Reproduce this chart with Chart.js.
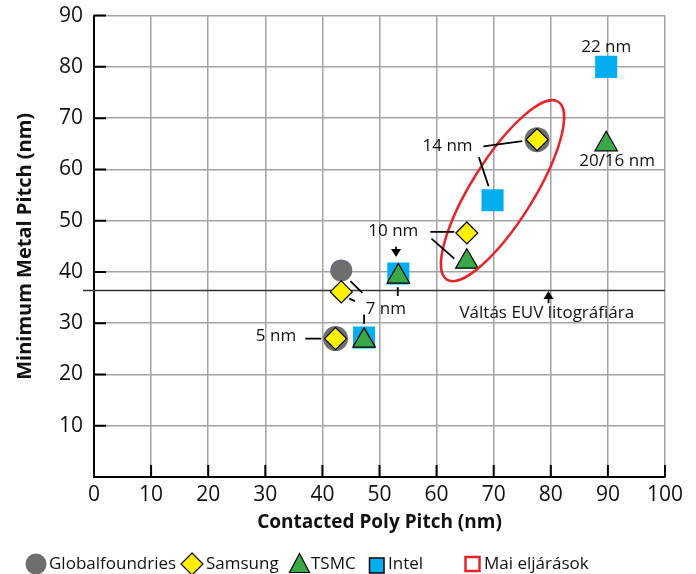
<!DOCTYPE html>
<html><head><meta charset="utf-8">
<script src="https://cdn.jsdelivr.net/npm/chart.js@4.4.1/dist/chart.umd.min.js"></script>
<style>html,body{margin:0;padding:0;background:#fff;} canvas{display:block;}</style>
</head><body>
<canvas id="c" width="696" height="574"></canvas>
<script>
// ---- data ----
const seriesNames = ['Globalfoundries', 'Samsung', 'TSMC', 'Intel'];
const gfX = [43.3, 42.3, 77.6];
const gfY = [40.3, 27.0, 65.8];
const samsungX = [43.3, 42.3, 65.3, 77.6];
const samsungY = [36.1, 27.0, 47.6, 65.8];
const tsmcX = [53.3, 47.3, 65.3, 89.7];
const tsmcY = [39.1, 26.6, 42.0, 64.9];
const intelX = [53.3, 47.3, 69.8, 89.7];
const intelY = [39.7, 27.2, 54.0, 80.0];
const euvPitch = 36.4;
const xTickValues = [0, 10, 20, 30, 40, 50, 60, 70, 80, 90, 100];
const yTickValues = [10, 20, 30, 40, 50, 60, 70, 80, 90];
const todayLabel = 'Mai eljárások';

// ---- annotations (data coordinates) ----
const nodeLabels = [
  {text: '22 nm', x: 89.7, y: 83.8, align: 'center'},
  {text: '20/16 nm', x: 91.6, y: 61.6, align: 'center'},
  {text: '14 nm', x: 66.3, y: 64.5, align: 'right'},
  {text: '10 nm', x: 56.8, y: 47.9, align: 'right'},
  {text: '7 nm', x: 51.1, y: 32.7, align: 'center'},
  {text: '5 nm', x: 35.4, y: 27.5, align: 'right'},
  {text: 'Váltás EUV litográfiára', x: 79.3, y: 32.0, align: 'center'}
];
const leaders = [
  [68.2, 64.5, 75.0, 65.5],
  [67.4, 62.4, 69.1, 56.7],
  [58.9, 47.8, 63.1, 47.8],
  [59.1, 46.5, 63.1, 42.6],
  [47.3, 31.7, 47.3, 29.9],
  [53.2, 37.0, 53.2, 35.3],
  [44.9, 38.2, 47.0, 35.9],
  [44.7, 34.8, 45.7, 34.3],
  [37.0, 27.0, 39.8, 27.0]
];
const arrows = [
  [52.9, 44.9, 52.9, 42.9],
  [79.6, 33.9, 79.6, 36.3]
];
const ellipseAxis = [61.8, 38.5, 81.3, 73.2];

const pts = (xs, ys) => xs.map((x, i) => ({x: x, y: ys[i]}));
const FONT = '"Open Sans", "Noto Sans", sans-serif';

const colors = {gf: '#6d6e71', sam: '#fff200', tsmc: '#3aa748', intel: '#00aeef', red: '#e3262b'};

const overlay = {
  id: 'overlay',
  beforeDatasetsDraw(chart) {
    const {ctx, chartArea: a, scales: {x, y}} = chart;
    ctx.save();
    ctx.strokeStyle = '#000';
    ctx.lineWidth = 2;
    ctx.beginPath();
    yTickValues.forEach(v => { const py = y.getPixelForValue(v); ctx.moveTo(a.left, py); ctx.lineTo(a.left + 12, py); });
    xTickValues.slice(1).forEach(v => { const px = x.getPixelForValue(v); ctx.moveTo(px, a.bottom); ctx.lineTo(px, a.bottom - 12); });
    ctx.stroke();
    const ey = y.getPixelForValue(euvPitch);
    ctx.strokeStyle = '#333';
    ctx.lineWidth = 1.5;
    ctx.beginPath(); ctx.moveTo(a.left - 11, ey); ctx.lineTo(a.right, ey); ctx.stroke();
    ctx.restore();
  },
  afterDatasetsDraw(chart) {
    const {ctx, scales: {x, y}} = chart;
    ctx.save();
    const p1x = x.getPixelForValue(ellipseAxis[0]), p1y = y.getPixelForValue(ellipseAxis[1]);
    const p2x = x.getPixelForValue(ellipseAxis[2]), p2y = y.getPixelForValue(ellipseAxis[3]);
    const cx = (p1x + p2x) / 2, cy = (p1y + p2y) / 2;
    const ra = Math.hypot(p2x - p1x, p2y - p1y) / 2;
    const ang = Math.atan2(p2y - p1y, p2x - p1x);
    ctx.strokeStyle = colors.red; ctx.lineWidth = 2.5;
    ctx.beginPath(); ctx.ellipse(cx, cy, ra, 31, ang, 0, Math.PI * 2); ctx.stroke();
    ctx.strokeStyle = '#000'; ctx.lineWidth = 1.8;
    ctx.beginPath();
    leaders.forEach(l => { ctx.moveTo(x.getPixelForValue(l[0]), y.getPixelForValue(l[1])); ctx.lineTo(x.getPixelForValue(l[2]), y.getPixelForValue(l[3])); });
    ctx.stroke();
    ctx.fillStyle = '#000';
    arrows.forEach(ar => {
      const x0 = x.getPixelForValue(ar[0]), y0 = y.getPixelForValue(ar[1]);
      const x1 = x.getPixelForValue(ar[2]), y1 = y.getPixelForValue(ar[3]);
      const an = Math.atan2(y1 - y0, x1 - x0);
      const hl = 8, hw = 5;
      ctx.beginPath(); ctx.moveTo(x0, y0); ctx.lineTo(x1 - Math.cos(an) * hl, y1 - Math.sin(an) * hl); ctx.stroke();
      ctx.beginPath();
      ctx.moveTo(x1, y1);
      ctx.lineTo(x1 - Math.cos(an) * hl - Math.sin(an) * hw, y1 - Math.sin(an) * hl + Math.cos(an) * hw);
      ctx.lineTo(x1 - Math.cos(an) * hl + Math.sin(an) * hw, y1 - Math.sin(an) * hl - Math.cos(an) * hw);
      ctx.closePath(); ctx.fill();
    });
    ctx.font = '17px ' + FONT; ctx.fillStyle = '#111'; ctx.textBaseline = 'middle';
    nodeLabels.forEach(t => { ctx.textAlign = t.align; ctx.fillText(t.text, x.getPixelForValue(t.x), y.getPixelForValue(t.y)); });
    ctx.restore();
  },
  afterDraw(chart) {
    const {ctx} = chart;
    const ly = 564;
    ctx.save();
    ctx.font = '17px ' + FONT; ctx.textBaseline = 'middle'; ctx.textAlign = 'left';
    ctx.fillStyle = colors.gf; ctx.beginPath(); ctx.arc(36, ly, 10.5, 0, Math.PI * 2); ctx.fill();
    ctx.fillStyle = colors.sam; ctx.strokeStyle = '#000'; ctx.lineWidth = 1.2;
    ctx.beginPath(); ctx.moveTo(192, ly - 11); ctx.lineTo(203, ly); ctx.lineTo(192, ly + 11); ctx.lineTo(181, ly); ctx.closePath(); ctx.fill(); ctx.stroke();
    ctx.fillStyle = colors.tsmc;
    ctx.beginPath(); ctx.moveTo(299.5, 553.5); ctx.lineTo(309.5, 572.5); ctx.lineTo(289.5, 572.5); ctx.closePath(); ctx.fill(); ctx.stroke();
    ctx.fillStyle = colors.intel; ctx.lineWidth = 1.5;
    ctx.fillRect(369.5, 558, 14.5, 15); ctx.strokeRect(369.5, 558, 14.5, 15);
    ctx.strokeStyle = colors.red; ctx.lineWidth = 2.5;
    ctx.strokeRect(465.5, 557, 14, 14);
    ctx.fillStyle = '#111';
    ctx.fillText(seriesNames[0], 49, ly);
    ctx.fillText(seriesNames[1], 206, ly);
    ctx.fillText(seriesNames[2], 311, ly);
    ctx.fillText(seriesNames[3], 388, ly);
    ctx.fillText(todayLabel, 484, ly);
    ctx.restore();
  }
};

new Chart(document.getElementById('c'), {
  type: 'scatter',
  data: {
    datasets: [
      {label: seriesNames[0], data: pts(gfX, gfY), order: 4, pointStyle: 'circle', pointRadius: [11, 12.5, 12.5], backgroundColor: colors.gf, borderWidth: 0},
      {label: seriesNames[1], data: pts(samsungX, samsungY), order: 1, pointStyle: 'rectRot', pointRadius: 11, backgroundColor: colors.sam, borderColor: '#000', borderWidth: 1.2},
      {label: seriesNames[2], data: pts(tsmcX, tsmcY), order: 2, pointStyle: 'triangle', pointRadius: 13, backgroundColor: colors.tsmc, borderColor: '#000', borderWidth: 1.2},
      {label: seriesNames[3], data: pts(intelX, intelY), order: 3, pointStyle: 'rect', pointRadius: 15.6, backgroundColor: colors.intel, borderWidth: 0}
    ]
  },
  options: {
    responsive: false,
    animation: false,
    events: [],
    layout: {padding: {left: 0, right: 31, top: 15, bottom: 0}},
    plugins: {legend: {display: false}, tooltip: {enabled: false}},
    scales: {
      x: {
        type: 'linear', min: 0, max: 100,
        afterFit: s => { s.height = 97; s.paddingLeft = 0; s.paddingRight = 0; },
        afterBuildTicks: s => { s.ticks = xTickValues.map(v => ({value: v})); },
        grid: {color: '#a3a3a3', lineWidth: 1.5, drawTicks: false},
        border: {color: '#000', width: 2},
        ticks: {padding: 5, color: '#111', font: {family: FONT, size: 21}},
        title: {display: true, text: 'Contacted Poly Pitch (nm)', color: '#111', font: {family: FONT, size: 19, weight: 'bold'}, padding: {top: 0, bottom: 40}}
      },
      y: {
        type: 'linear', min: 0, max: 90,
        afterFit: s => { s.width = 94; s.paddingTop = 0; s.paddingBottom = 0; },
        afterBuildTicks: s => { s.ticks = [0].concat(yTickValues).map(v => ({value: v})); },
        grid: {color: '#a3a3a3', lineWidth: 1.5, drawTicks: false},
        border: {color: '#000', width: 2},
        ticks: {padding: 11, color: '#111', font: {family: FONT, size: 21}, callback: v => (v === 0 ? '' : v)},
        title: {display: true, text: 'Minimum Metal Pitch (nm)', color: '#111', font: {family: FONT, size: 20, weight: 'bold'}, padding: {top: 13, bottom: 0}}
      }
    }
  },
  plugins: [overlay]
});
</script>
</body></html>
